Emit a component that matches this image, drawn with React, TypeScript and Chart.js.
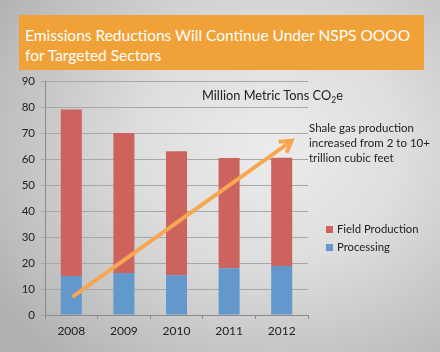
import React, { useEffect, useRef } from "react";
import { Chart, registerables } from "chart.js";

Chart.register(...registerables);

const years = ["2008", "2009", "2010", "2011", "2012"];
const processing = [15, 16.2, 15.3, 18, 18.8];
const fieldProduction = [64, 53.8, 47.7, 42.4, 41.7];
const yTicks = [0, 10, 20, 30, 40, 50, 60, 70, 80, 90];
// arrow from (category index, value) to (category index, value)
const arrowFrom = [0.02, 7];
const arrowTo = [4.19, 67];

const FONT = "Lato, 'Open Sans', sans-serif";
const RED = "#CC645D";
const BLUE = "#6298CC";
const ORANGE = "#F9A650";

const arrowPlugin = {
  id: "arrow",
  afterDatasetsDraw(chart: any) {
    const { ctx, scales } = chart;
    const x0 = scales.x.getPixelForValue(arrowFrom[0]);
    const y0 = scales.y.getPixelForValue(arrowFrom[1]);
    const x1 = scales.x.getPixelForValue(arrowTo[0]);
    const y1 = scales.y.getPixelForValue(arrowTo[1]);
    const ang = Math.atan2(y1 - y0, x1 - x0);
    ctx.save();
    ctx.strokeStyle = ORANGE;
    ctx.lineWidth = 4;
    ctx.lineCap = "butt";
    ctx.beginPath();
    ctx.moveTo(x0, y0);
    ctx.lineTo(x1, y1);
    ctx.stroke();
    const L = 13;
    ctx.lineJoin = "miter";
    ctx.beginPath();
    ctx.moveTo(x1 - L * Math.cos(ang - 0.55), y1 - L * Math.sin(ang - 0.55));
    ctx.lineTo(x1, y1);
    ctx.lineTo(x1 - L * Math.cos(ang + 0.55), y1 - L * Math.sin(ang + 0.55));
    ctx.stroke();
    ctx.restore();
  },
};

export default function App() {
  const ref = useRef<HTMLCanvasElement>(null);
  useEffect(() => {
    const chart = new Chart(ref.current!, {
      type: "bar",
      data: {
        labels: years,
        datasets: [
          { label: "Processing", data: processing, backgroundColor: BLUE, barPercentage: 0.8, categoryPercentage: 0.5 },
          { label: "Field Production", data: fieldProduction, backgroundColor: RED, barPercentage: 0.8, categoryPercentage: 0.5 },
        ],
      },
      options: {
        responsive: false,
        animation: false,
        layout: { padding: { left: 0, top: 81, right: 132, bottom: 0 } },
        plugins: { legend: { display: false }, tooltip: { enabled: false }, title: { display: false } },
        scales: {
          x: {
            stacked: true,
            grid: { display: true, drawOnChartArea: false, offset: true, tickLength: 4, color: "#8a8a8a" },
            border: { color: "#8a8a8a" },
            ticks: { color: "#222", font: { family: FONT, size: 12 }, padding: 5 },
            afterFit: (s: any) => { s.height = 37; },
          },
          y: {
            stacked: true,
            min: 0,
            max: 90,
            afterBuildTicks: (s: any) => { s.ticks = yTicks.map((v) => ({ value: v })); },
            grid: { color: "#a8a8a8", tickLength: 4 },
            border: { color: "#8a8a8a" },
            ticks: { color: "#222", font: { family: FONT, size: 11.5 }, padding: 6 },
            afterFit: (s: any) => { s.width = 45; },
          },
        },
      },
      plugins: [arrowPlugin],
    });
    return () => chart.destroy();
  }, []);

  return (
    <div
      style={{
        position: "absolute",
        left: 0,
        top: 0,
        width: 440,
        height: 352,
        overflow: "hidden",
        background: "radial-gradient(ellipse 75% 80% at 62% 42%, #ececec 0%, #dedede 40%, #bdbdbd 85%, #b0b0b0 100%)",
        fontFamily: FONT,
      }}
    >
      <div
        style={{
          position: "absolute",
          left: 19,
          top: 15,
          width: 405,
          height: 55,
          background: "#F0A238",
          color: "#fff",
          fontSize: 15.5,
          lineHeight: "20px",
          padding: "10px 0 0 6px",
          boxSizing: "border-box",
          whiteSpace: "nowrap",
        }}
      >
        Emissions Reductions Will Continue Under NSPS OOOO
        <br />
        for Targeted Sectors
      </div>
      <canvas ref={ref} width={440} height={352} style={{ position: "absolute", left: 0, top: 0 }} />
      <div style={{ position: "absolute", left: 202, top: 87, fontSize: 12.8, color: "#222", whiteSpace: "nowrap" }}>
        Million Metric Tons CO<sub style={{ fontSize: 8.5, verticalAlign: "-3px" }}>2</sub>e
      </div>
      <div style={{ position: "absolute", left: 309, top: 120, fontSize: 11.5, lineHeight: "15px", color: "#222", whiteSpace: "nowrap" }}>
        Shale gas production
        <br />
        increased from 2 to 10+
        <br />
        trillion cubic feet
      </div>
      <div style={{ position: "absolute", left: 326, top: 220, fontSize: 11.3, lineHeight: "18px", color: "#222", whiteSpace: "nowrap" }}>
        <div style={{ display: "flex", alignItems: "center" }}>
          <span style={{ width: 7, height: 7, background: RED, marginRight: 4, display: "inline-block" }} />
          Field Production
        </div>
        <div style={{ display: "flex", alignItems: "center" }}>
          <span style={{ width: 7, height: 7, background: BLUE, marginRight: 4, display: "inline-block" }} />
          Processing
        </div>
      </div>
    </div>
  );
}
